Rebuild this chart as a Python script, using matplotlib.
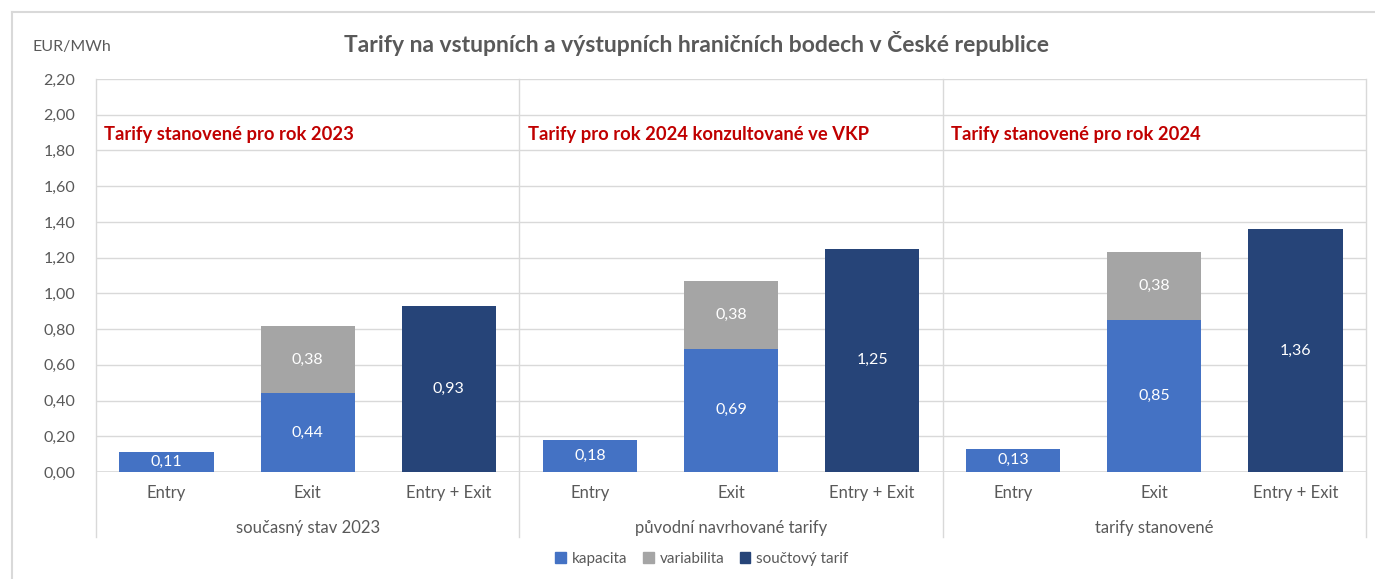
import matplotlib.pyplot as plt
from matplotlib.patches import Patch
from matplotlib.lines import Line2D
import matplotlib.transforms as mtransforms

plt.rcParams['font.family'] = ['Lato', 'DejaVu Sans']

# ---------------------------------
groups = ["současný stav 2023", "původní navrhované tarify", "tarify stanovené"]
notes = ["Tarify stanovené pro rok 2023",
         "Tarify pro rok 2024 konzultované ve VKP",
         "Tarify stanovené pro rok 2024"]
categories = ["Entry", "Exit", "Entry + Exit"]
entry_kap = [0.11, 0.18, 0.13]
exit_kap = [0.44, 0.69, 0.85]
exit_var = [0.38, 0.38, 0.38]
total = [0.93, 1.25, 1.36]
yticks = [0.0, 0.2, 0.4, 0.6, 0.8, 1.0, 1.2, 1.4, 1.6, 1.8, 2.0, 2.2]
# ---------------------------------

c_kap = '#4472C4'
c_var = '#A5A5A5'
c_tot = '#264478'
grey = '#595959'
line_c = '#D9D9D9'

fig = plt.figure(figsize=(13.75, 5.79), dpi=100)
W, H = 1375, 579
ax = fig.add_axes([96 / W, 1 - 472 / H, (1366 - 96) / W, (472 - 79) / H])

bw = 0.667
for g in range(len(groups)):
    x0 = g * 3
    ax.bar(x0, entry_kap[g], bw, color=c_kap, zorder=3)
    ax.bar(x0 + 1, exit_kap[g], bw, color=c_kap, zorder=3)
    ax.bar(x0 + 1, exit_var[g], bw, bottom=exit_kap[g], color=c_var, zorder=3)
    ax.bar(x0 + 2, total[g], bw, color=c_tot, zorder=3)
    lbl = dict(ha='center', va='center', color='white', fontsize=11.5, zorder=4)
    ax.text(x0, entry_kap[g] / 2, f"{entry_kap[g]:.2f}".replace('.', ','), **lbl)
    ax.text(x0 + 1, exit_kap[g] / 2, f"{exit_kap[g]:.2f}".replace('.', ','), **lbl)
    ax.text(x0 + 1, exit_kap[g] + exit_var[g] / 2,
            f"{exit_var[g]:.2f}".replace('.', ','), **lbl)
    ax.text(x0 + 2, total[g] / 2, f"{total[g]:.2f}".replace('.', ','), **lbl)
    ax.text(x0 - 0.44, 1.89, notes[g], color='#C00000', fontsize=13.2,
            fontweight='bold', va='center', ha='left')

ax.set_xlim(-0.5, 8.5)
ax.set_ylim(0, 2.2)
ax.set_yticks(yticks)
ax.set_yticklabels([f"{v:.2f}".replace('.', ',') for v in yticks],
                   color=grey, fontsize=11.5)
ax.tick_params(axis='y', length=0, pad=15)
ax.set_xticks([])
ax.grid(axis='y', color=line_c, lw=1, zorder=0)
for s in ax.spines.values():
    s.set_visible(False)

# group separators, extended below the axis
trans = mtransforms.blended_transform_factory(ax.transData, ax.transAxes)
for xs in [-0.5, 2.5, 5.5, 8.5]:
    ax.add_line(Line2D([xs, xs], [-0.165, 1.0], transform=trans,
                       color=line_c, lw=1, clip_on=False, zorder=1))
ax.axhline(0, color=line_c, lw=1.2, zorder=2)

for g in range(len(groups)):
    for i, c in enumerate(categories):
        ax.text(g * 3 + i, -0.053, c, transform=trans, ha='center',
                va='center', color=grey, fontsize=12)
    ax.text(g * 3 + 1, -0.142, groups[g], transform=trans, ha='center',
            va='center', color=grey, fontsize=12)

fig.text(697 / W, 1 - 43 / H,
         "Tarify na vstupních a výstupních hraničních bodech v České republice",
         ha='center', va='center', fontsize=16.5, fontweight='bold', color=grey)
fig.text(32 / W, 1 - 47 / H, "EUR/MWh", ha='left', va='center',
         fontsize=11.5, color=grey)

# chart frame (top and left edges)
fig.add_artist(Line2D([12 / W, 1], [1 - 12 / H, 1 - 12 / H], color=line_c, lw=1.5))
fig.add_artist(Line2D([12 / W, 12 / W], [0, 1 - 12 / H], color=line_c, lw=1.5))

handles = [Patch(color=c_kap, label='kapacita'),
           Patch(color=c_var, label='variabilita'),
           Patch(color=c_tot, label='součtový tarif')]
fig.legend(handles=handles, loc='center', bbox_to_anchor=(702 / W, 1 - 559 / H),
           ncol=3, frameon=False, fontsize=11, handlelength=0.7,
           handleheight=0.7, handletextpad=0.4, columnspacing=1.0,
           labelcolor=grey)

fig.savefig('out.png', dpi=100)
